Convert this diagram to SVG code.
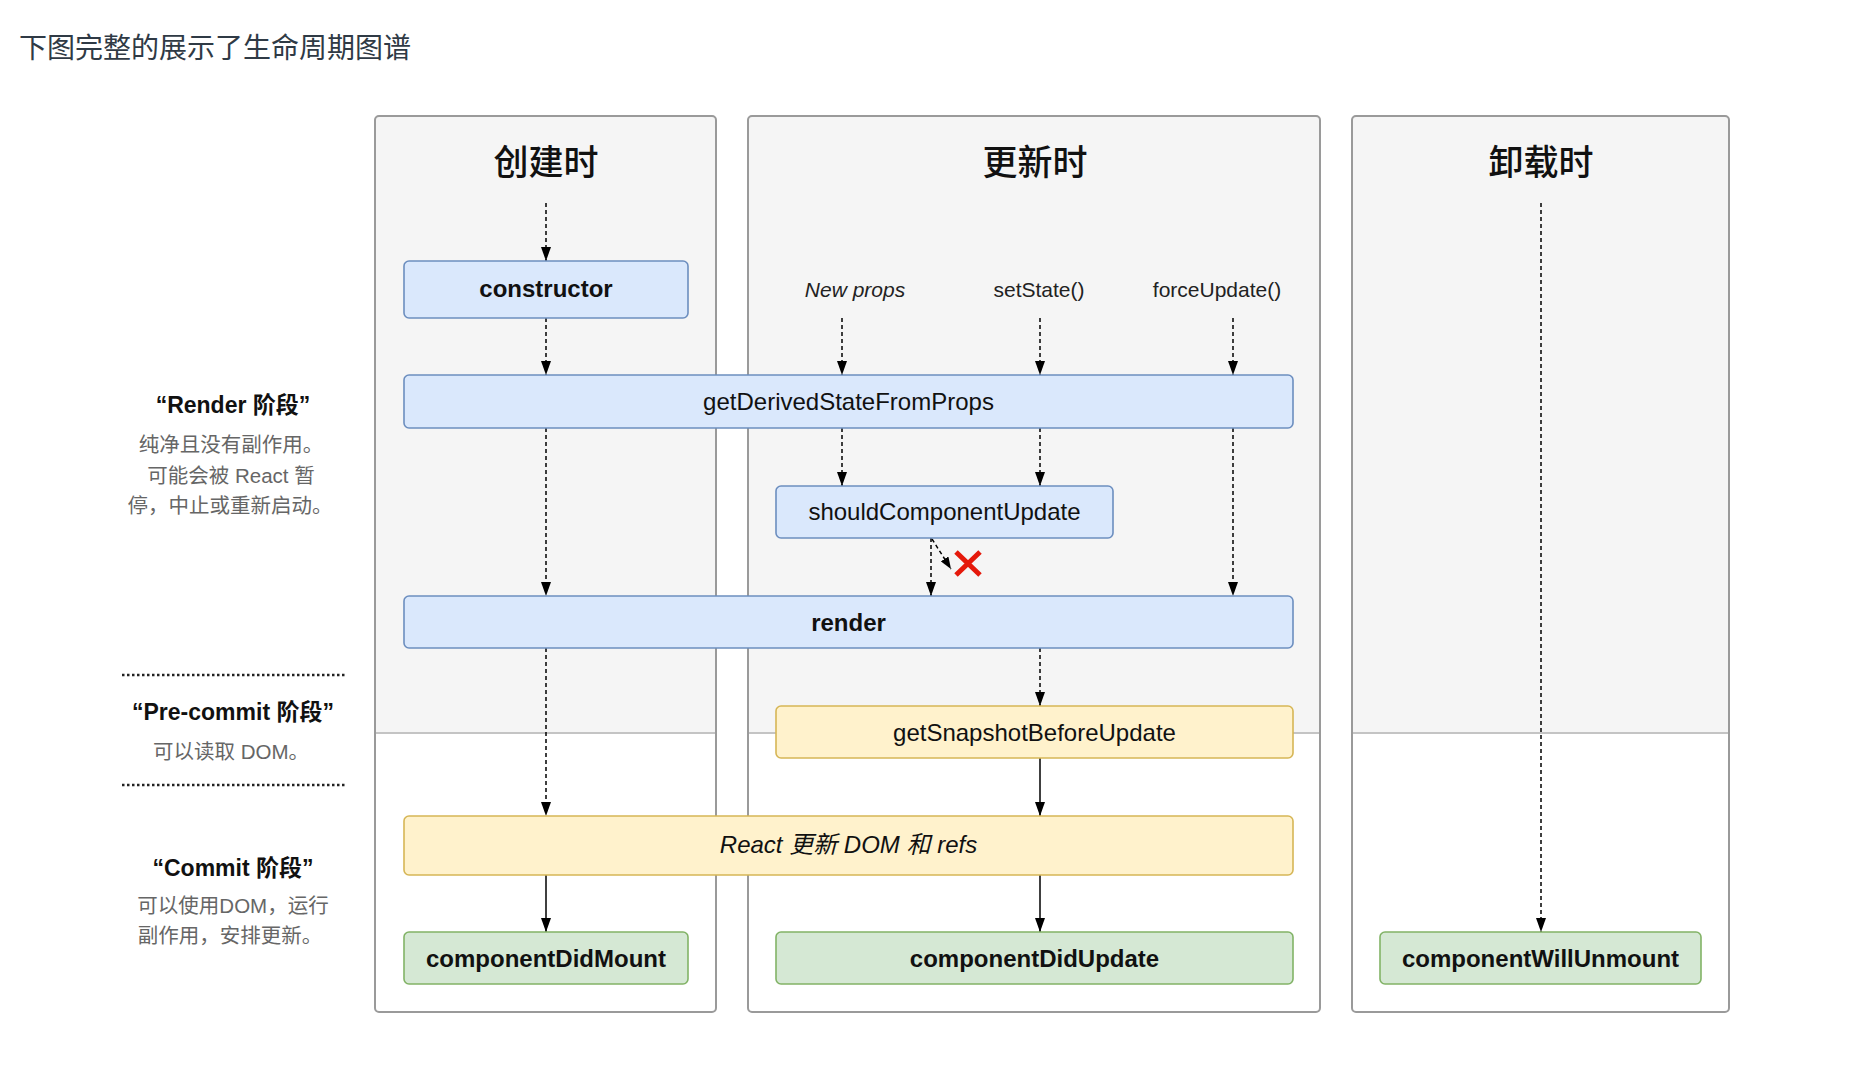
<svg xmlns="http://www.w3.org/2000/svg" width="1850" height="1080" viewBox="0 0 1850 1080">
<defs>
<style>
.title{font-family:"Noto Sans CJK SC",sans-serif;font-size:28px;fill:#2f3a45}
.coltitle{font-family:"Noto Sans CJK SC",sans-serif;font-size:35px;font-weight:500;fill:#111;text-anchor:middle}
.box{stroke-width:1.6}
.blue{fill:#dae8fc;stroke:#6c8ebf}
.yellow{fill:#fff2cc;stroke:#d6b656}
.green{fill:#d5e8d4;stroke:#82b366}
.lbl{font-family:"Liberation Sans","Noto Sans CJK SC",sans-serif;font-size:24px;fill:#111;text-anchor:middle}
.b{font-weight:bold}
.it{font-style:italic}
.trig{font-family:"Liberation Sans","Noto Sans CJK SC",sans-serif;font-size:21px;fill:#222;text-anchor:middle}
.phase{font-family:"Liberation Sans","Noto Sans CJK SC",sans-serif;font-size:23px;font-weight:bold;fill:#111;text-anchor:middle}
.desc{font-family:"Liberation Sans","Noto Sans CJK SC",sans-serif;font-size:20.5px;fill:#666;text-anchor:middle}
.dash{fill:none;stroke:#000;stroke-width:1.5;stroke-dasharray:4 3}
.solid{fill:none;stroke:#000;stroke-width:1.5}
.dots{fill:none;stroke:#222;stroke-width:2.5;stroke-dasharray:2.5 2.5}
.frame{fill:none;stroke:#9a9a9a;stroke-width:2}
.upper{fill:#f5f5f5}
.divider{stroke:#c4c4c4;stroke-width:2}
</style>
<marker id="ah" viewBox="0 0 14 10" refX="14" refY="5" markerWidth="14" markerHeight="10" markerUnits="userSpaceOnUse" orient="auto" preserveAspectRatio="none">
<path d="M0,0 L14,5 L0,10 z" fill="#000"/>
</marker>
<marker id="ahs" viewBox="0 0 12 9" refX="12" refY="4.5" markerWidth="12" markerHeight="9" markerUnits="userSpaceOnUse" orient="auto" preserveAspectRatio="none">
<path d="M0,0 L12,4.5 L0,9 z" fill="#000"/>
</marker>
</defs>
<rect width="1850" height="1080" fill="#fff"/>
<text class="title" x="19" y="58">下图完整的展示了生命周期图谱</text>

<g id="phase-labels">
<text class="phase" x="233" y="413">“Render 阶段”</text>
<text class="desc" x="231" y="452">纯净且没有副作用。</text>
<text class="desc" x="231" y="483"> 可能会被 React 暂</text>
<text class="desc" x="230" y="513">停，中止或重新启动。</text>
<line class="dots" x1="122" y1="675" x2="345" y2="675"/>
<text class="phase" x="233" y="720">“Pre-commit 阶段”</text>
<text class="desc" x="231" y="759">可以读取 DOM。</text>
<line class="dots" x1="122" y1="785" x2="345" y2="785"/>
<text class="phase" x="233" y="876">“Commit 阶段”</text>
<text class="desc" x="233" y="913">可以使用DOM，运行</text>
<text class="desc" x="230" y="943">副作用，安排更新。</text>
</g>

<g id="col-mount">
<rect x="375" y="116" width="341" height="896" fill="#fff"/>
<path class="upper" d="M375,733 V120 Q375,116 379,116 H712 Q716,116 716,120 V733 Z"/>
<line class="divider" x1="375" y1="733" x2="716" y2="733"/>
<rect class="frame" x="375" y="116" width="341" height="896" rx="4"/>
<text class="coltitle" x="546" y="175">创建时</text>
</g>
<g id="col-update">
<rect x="748" y="116" width="572" height="896" fill="#fff"/>
<path class="upper" d="M748,733 V120 Q748,116 752,116 H1316 Q1320,116 1320,120 V733 Z"/>
<line class="divider" x1="748" y1="733" x2="1320" y2="733"/>
<rect class="frame" x="748" y="116" width="572" height="896" rx="4"/>
<text class="coltitle" x="1035" y="175">更新时</text>
<text class="trig it" x="855" y="297">New props</text>
<text class="trig" x="1039" y="297">setState()</text>
<text class="trig" x="1217" y="297">forceUpdate()</text>
</g>
<g id="col-unmount">
<rect x="1352" y="116" width="377" height="896" fill="#fff"/>
<path class="upper" d="M1352,733 V120 Q1352,116 1356,116 H1725 Q1729,116 1729,120 V733 Z"/>
<line class="divider" x1="1352" y1="733" x2="1729" y2="733"/>
<rect class="frame" x="1352" y="116" width="377" height="896" rx="4"/>
<text class="coltitle" x="1541" y="175">卸载时</text>
</g>

<g id="connectors">
<line class="dash" x1="546" y1="203" x2="546" y2="261" marker-end="url(#ah)"/>
<line class="dash" x1="546" y1="318" x2="546" y2="375" marker-end="url(#ah)"/>
<line class="dash" x1="842" y1="318" x2="842" y2="375" marker-end="url(#ah)"/>
<line class="dash" x1="1040" y1="318" x2="1040" y2="375" marker-end="url(#ah)"/>
<line class="dash" x1="1233" y1="318" x2="1233" y2="375" marker-end="url(#ah)"/>
<line class="dash" x1="546" y1="428" x2="546" y2="596" marker-end="url(#ah)"/>
<line class="dash" x1="842" y1="428" x2="842" y2="486" marker-end="url(#ah)"/>
<line class="dash" x1="1040" y1="428" x2="1040" y2="486" marker-end="url(#ah)"/>
<line class="dash" x1="1233" y1="428" x2="1233" y2="596" marker-end="url(#ah)"/>
<line class="dash" x1="931" y1="538" x2="931" y2="596" marker-end="url(#ah)"/>
<line class="dash" x1="932" y1="539" x2="951" y2="569" marker-end="url(#ahs)"/>
<line class="dash" x1="546" y1="648" x2="546" y2="816" marker-end="url(#ah)"/>
<line class="dash" x1="1040" y1="648" x2="1040" y2="706" marker-end="url(#ah)"/>
<line class="dash" x1="1541" y1="203" x2="1541" y2="932" marker-end="url(#ah)"/>
<line class="solid" x1="1040" y1="758" x2="1040" y2="816" marker-end="url(#ah)"/>
<line class="solid" x1="546" y1="875" x2="546" y2="932" marker-end="url(#ah)"/>
<line class="solid" x1="1040" y1="875" x2="1040" y2="932" marker-end="url(#ah)"/>
</g>

<g id="cross">
<path d="M956,552 L980,575 M980,552 L956,575" stroke="#e5190b" stroke-width="5" fill="none"/>
</g>

<g id="node-constructor">
<rect class="box blue" x="404" y="261" width="284" height="57" rx="5"/>
<text class="lbl b" x="546" y="297">constructor</text>
</g>
<g id="node-getDerivedStateFromProps">
<rect class="box blue" x="404" y="375" width="889" height="53" rx="5"/>
<text class="lbl" x="848.5" y="410">getDerivedStateFromProps</text>
</g>
<g id="node-shouldComponentUpdate">
<rect class="box blue" x="776" y="486" width="337" height="52" rx="5"/>
<text class="lbl" x="944.5" y="520">shouldComponentUpdate</text>
</g>
<g id="node-render">
<rect class="box blue" x="404" y="596" width="889" height="52" rx="5"/>
<text class="lbl b" x="848.5" y="631">render</text>
</g>
<g id="node-getSnapshotBeforeUpdate">
<rect class="box yellow" x="776" y="706" width="517" height="52" rx="5"/>
<text class="lbl" x="1034.5" y="741">getSnapshotBeforeUpdate</text>
</g>
<g id="node-react-dom">
<rect class="box yellow" x="404" y="816" width="889" height="59" rx="5"/>
<text class="lbl it" x="848.5" y="853">React 更新 DOM 和 refs</text>
</g>
<g id="node-componentDidMount">
<rect class="box green" x="404" y="932" width="284" height="52" rx="5"/>
<text class="lbl b" x="546" y="967">componentDidMount</text>
</g>
<g id="node-componentDidUpdate">
<rect class="box green" x="776" y="932" width="517" height="52" rx="5"/>
<text class="lbl b" x="1034.5" y="967">componentDidUpdate</text>
</g>
<g id="node-componentWillUnmount">
<rect class="box green" x="1380" y="932" width="321" height="52" rx="5"/>
<text class="lbl b" x="1540.5" y="967">componentWillUnmount</text>
</g>
</svg>
